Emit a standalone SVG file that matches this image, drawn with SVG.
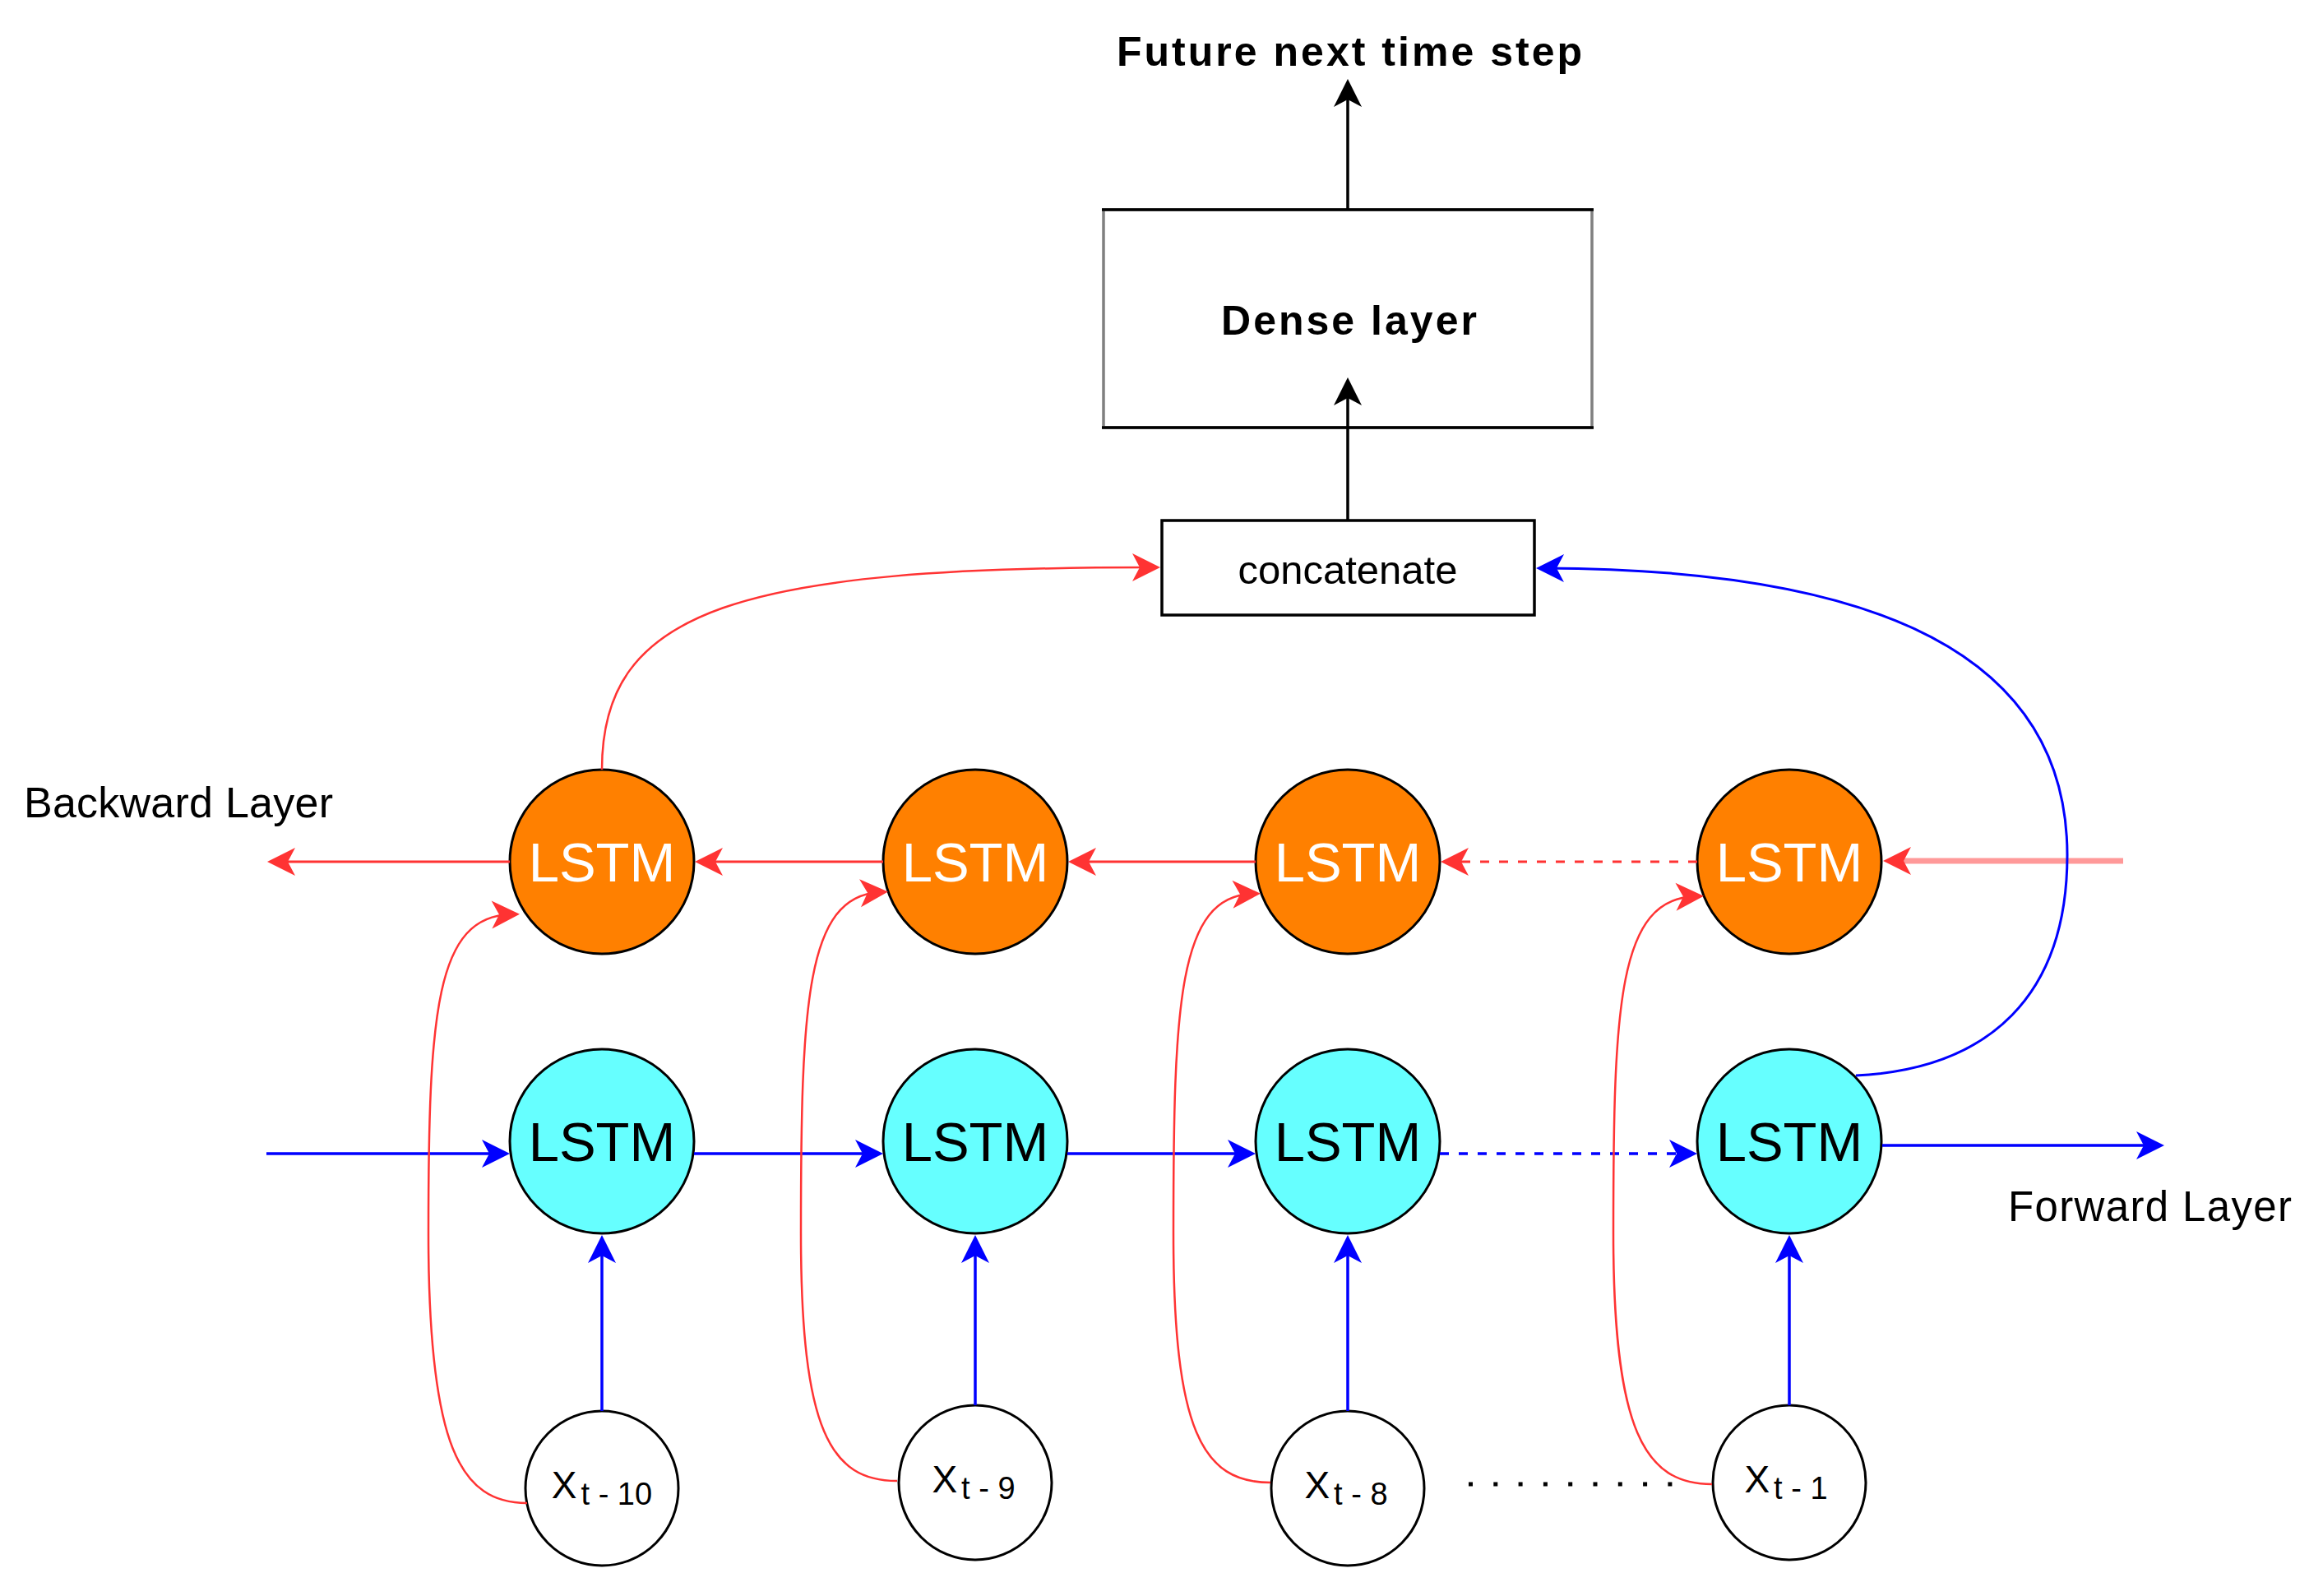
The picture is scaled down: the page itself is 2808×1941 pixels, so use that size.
<svg xmlns="http://www.w3.org/2000/svg" width="2808" height="1941" viewBox="0 0 2808 1941">
<style>
  .lbl{font-family:"Liberation Sans",Arial,sans-serif;fill:#000}
  .bold{font-weight:bold}
  .lstm{stroke:#000;stroke-width:3}
  .orange{fill:#FF8000}
  .cyan{fill:#66FFFF}
  .xin{fill:#fff;stroke:#000;stroke-width:3}
  .lt{font-family:"Liberation Sans",Arial,sans-serif;font-size:67px;text-anchor:middle}
  .red{fill:none;stroke:#FF3333;stroke-width:3;marker-end:url(#ar)}
  .redc{fill:none;stroke:#FF3333;stroke-width:2.5;marker-end:url(#ar)}
  .blue{fill:none;stroke:#0000FF;stroke-width:3.5;marker-end:url(#ab)}
  .blk{fill:none;stroke:#000;stroke-width:3.5;marker-end:url(#ak)}
  .dash{stroke-dasharray:11 12}
</style>
<defs>
  <marker id="ar" markerUnits="userSpaceOnUse" viewBox="-40 -25 55 50" markerWidth="55" markerHeight="50" refX="0" refY="0" orient="auto">
    <path d="M10,0 L-24,-17 L-15,0 L-24,17 Z" fill="#FF3333"/>
  </marker>
  <marker id="ab" markerUnits="userSpaceOnUse" viewBox="-40 -25 55 50" markerWidth="55" markerHeight="50" refX="0" refY="0" orient="auto">
    <path d="M10,0 L-24,-17 L-15,0 L-24,17 Z" fill="#0000FF"/>
  </marker>
  <marker id="ak" markerUnits="userSpaceOnUse" viewBox="-40 -25 55 50" markerWidth="55" markerHeight="50" refX="0" refY="0" orient="auto">
    <path d="M10,0 L-24,-17 L-15,0 L-24,17 Z" fill="#000"/>
  </marker>
</defs>
<rect width="2808" height="1941" fill="#fff"/>

<g id="future-label">
  <text class="lbl bold" x="1358" y="80" font-size="50" textLength="566">Future next time step</text>
</g>

<g id="dense-layer">
  <rect x="1342" y="255" width="594" height="265" fill="#fff" stroke="#808080" stroke-width="3.5"/>
  <line x1="1340" y1="255" x2="1938" y2="255" stroke="#000" stroke-width="3.5"/>
  <line x1="1340" y1="520" x2="1938" y2="520" stroke="#000" stroke-width="3.5"/>
  <text class="lbl bold" x="1485" y="407" font-size="50" textLength="311">Dense layer</text>
</g>

<g id="concatenate">
  <rect x="1413" y="633" width="453" height="115" fill="#fff" stroke="#000" stroke-width="3.5"/>
  <text class="lbl" x="1639" y="710" font-size="49" text-anchor="middle">concatenate</text>
</g>

<g id="backward-label"><text class="lbl" x="29" y="994" font-size="52" textLength="376">Backward Layer</text></g>
<g id="forward-label"><text class="lbl" x="2442" y="1485" font-size="51" textLength="345">Forward Layer</text></g>

<g id="b1"><circle class="lstm orange" cx="732" cy="1048" r="112"/><text class="lt" x="732" y="1072" fill="#fff">LSTM</text></g>
<g id="b2"><circle class="lstm orange" cx="1186" cy="1048" r="112"/><text class="lt" x="1186" y="1072" fill="#fff">LSTM</text></g>
<g id="b3"><circle class="lstm orange" cx="1639" cy="1048" r="112"/><text class="lt" x="1639" y="1072" fill="#fff">LSTM</text></g>
<g id="b4"><circle class="lstm orange" cx="2176" cy="1048" r="112"/><text class="lt" x="2176" y="1072" fill="#fff">LSTM</text></g>

<g id="f1"><circle class="lstm cyan" cx="732" cy="1388" r="112"/><text class="lt" x="732" y="1412" fill="#000">LSTM</text></g>
<g id="f2"><circle class="lstm cyan" cx="1186" cy="1388" r="112"/><text class="lt" x="1186" y="1412" fill="#000">LSTM</text></g>
<g id="f3"><circle class="lstm cyan" cx="1639" cy="1388" r="112"/><text class="lt" x="1639" y="1412" fill="#000">LSTM</text></g>
<g id="f4"><circle class="lstm cyan" cx="2176" cy="1388" r="112"/><text class="lt" x="2176" y="1412" fill="#000">LSTM</text></g>

<g id="x10"><ellipse class="xin" cx="732" cy="1810" rx="93" ry="94"/>
  <text class="lbl" x="732" y="1822" font-size="46" text-anchor="middle">X<tspan font-size="38" dy="8" dx="5">t - 10</tspan></text></g>
<g id="x9"><ellipse class="xin" cx="1186" cy="1803" rx="93" ry="94"/>
  <text class="lbl" x="1184" y="1815" font-size="46" text-anchor="middle">X<tspan font-size="38" dy="8" dx="5">t - 9</tspan></text></g>
<g id="x8"><ellipse class="xin" cx="1639" cy="1810" rx="93" ry="94"/>
  <text class="lbl" x="1637" y="1822" font-size="46" text-anchor="middle">X<tspan font-size="38" dy="8" dx="5">t - 8</tspan></text></g>
<g id="x1"><ellipse class="xin" cx="2176" cy="1803" rx="93" ry="94"/>
  <text class="lbl" x="2172" y="1815" font-size="46" text-anchor="middle">X<tspan font-size="38" dy="8" dx="5">t - 1</tspan></text></g>

<g id="connectors">
  <!-- top black arrows -->
  <path class="blk" d="M1639 255 L1639 106"/>
  <path class="blk" d="M1639 633 L1639 469"/>
  <!-- backward layer horizontal -->
  <path class="red" d="M620 1048 L335 1048"/>
  <path class="red" d="M1074 1048 L855 1048"/>
  <path class="red" d="M1527 1048 L1309 1048"/>
  <path class="red dash" d="M2064 1048 L1762 1048"/>
  <path d="M2582 1047 L2300 1047" fill="none" stroke="#FF3333" stroke-opacity="0.5" stroke-width="7" marker-end="url(#ar)"/>
  <!-- forward layer horizontal -->
  <path class="blue" d="M324 1403 L610 1403"/>
  <path class="blue" d="M844 1403 L1064 1403"/>
  <path class="blue" d="M1298 1403 L1517 1403"/>
  <path class="blue dash" d="M1751 1403 L2054 1403"/>
  <path class="blue" d="M2289 1393 L2622 1393"/>
  <!-- inputs to forward LSTMs -->
  <path class="blue" d="M732 1716 L732 1512"/>
  <path class="blue" d="M1186 1709 L1186 1512"/>
  <path class="blue" d="M1639 1716 L1639 1512"/>
  <path class="blue" d="M2176 1709 L2176 1512"/>
  <!-- inputs to backward LSTMs -->
  <path class="redc" d="M641 1828 C560 1828 521 1760 521 1500 C521 1230 530 1114 622 1112"/>
  <path class="redc" d="M1091 1801 C1010 1801 974 1740 974 1500 C974 1220 980 1090 1070 1085"/>
  <path class="redc" d="M1545 1803 C1462 1803 1427 1740 1427 1500 C1427 1220 1433 1090 1523 1087"/>
  <path class="redc" d="M2082 1805 C2000 1805 1962 1740 1962 1500 C1962 1220 1968 1093 2062 1090"/>
  <!-- to concatenate -->
  <path class="redc" d="M732 936 C732 740 900 690 1401 690"/>
  <path fill="none" stroke="#0000FF" stroke-width="3" marker-end="url(#ab)" d="M2257 1308 C2420 1300 2514 1210 2514 1040 C2514 770 2230 692 1878 691"/>
  <!-- dotted continuation -->
  <path d="M1786 1805 L2036 1805" fill="none" stroke="#000" stroke-width="5" stroke-dasharray="5 25.3"/>
</g>
</svg>
